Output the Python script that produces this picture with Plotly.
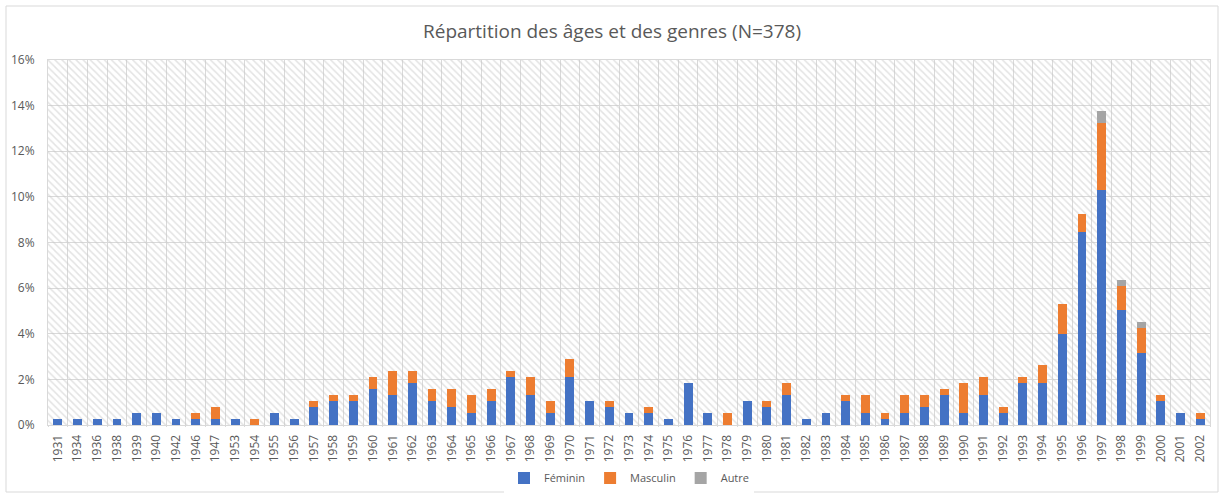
import plotly.graph_objects as go

N = 378
years = ["1931", "1934", "1936", "1938", "1939", "1940", "1942", "1946", "1947", "1953",
         "1954", "1955", "1956", "1957", "1958", "1959", "1960", "1961", "1962", "1963",
         "1964", "1965", "1966", "1967", "1968", "1969", "1970", "1971", "1972", "1973",
         "1974", "1975", "1976", "1977", "1978", "1979", "1980", "1981", "1982", "1983",
         "1984", "1985", "1986", "1987", "1988", "1989", "1990", "1991", "1992", "1993",
         "1994", "1995", "1996", "1997", "1998", "1999", "2000", "2001", "2002"]

# counts per year (persons)
feminin = [1, 1, 1, 1, 2, 2, 1, 1, 1, 1,
           0, 2, 1, 3, 4, 4, 6, 5, 7, 4,
           3, 2, 4, 8, 5, 2, 8, 4, 3, 2,
           2, 1, 7, 2, 0, 4, 3, 5, 1, 2,
           4, 2, 1, 2, 3, 5, 2, 5, 2, 7,
           7, 15, 32, 39, 19, 12, 4, 2, 1]
masculin = [0, 0, 0, 0, 0, 0, 0, 1, 2, 0,
            1, 0, 0, 1, 1, 1, 2, 4, 2, 2,
            3, 3, 2, 1, 3, 2, 3, 0, 1, 0,
            1, 0, 0, 0, 2, 0, 1, 2, 0, 0,
            1, 3, 1, 3, 2, 1, 5, 3, 1, 1,
            3, 5, 3, 11, 4, 4, 1, 0, 1]
autre = [0] * 53 + [2, 1, 1, 0, 0, 0]

series_names = ["Féminin", "Masculin", "Autre"]
series_colors = ["#4472C4", "#ED7D31", "#A5A5A5"]
series_counts = [feminin, masculin, autre]

title_text = "Répartition des âges et des genres (N=378)"
text_color = "#595959"
grid_color = "#d9d9d9"

W, H = 1224, 498
L, R, T, B = 48, 14, 60, 73
pw, ph = W - L - R, H - T - B

fig = go.Figure()

# hatched background of the plot area (base subplot, hidden axes)
fig.add_trace(go.Bar(
    x=[0.5], y=[1], width=[1], base=[0],
    xaxis="x", yaxis="y",
    marker=dict(color="rgba(0,0,0,0)", line=dict(width=0),
                pattern=dict(shape="\\", fgcolor="#c8c8c8", bgcolor="rgba(0,0,0,0)",
                             size=5, solidity=0.3)),
    showlegend=False, hoverinfo="skip",
))

for name, color, counts in zip(series_names, series_colors, series_counts):
    fig.add_trace(go.Bar(
        x=years, y=[c / N for c in counts], name=name,
        xaxis="x2", yaxis="y2",
        marker=dict(color=color, line=dict(width=0)),
    ))

fig.update_layout(
    width=W, height=H,
    margin=dict(l=L, r=R, t=T, b=B, autoexpand=False),
    paper_bgcolor="white", plot_bgcolor="white",
    barmode="stack", bargap=0.55,
    font=dict(family="Open Sans", color=text_color, size=12),
    title=dict(text=title_text, x=0.5, xanchor="center", y=1 - 31 / H, yanchor="middle",
               font=dict(family="Open Sans", size=19, color=text_color)),
    xaxis=dict(range=[0, 1], visible=False, fixedrange=True),
    yaxis=dict(range=[0, 1], visible=False, fixedrange=True),
    xaxis2=dict(type="category", overlaying="x", anchor="y2", side="bottom",
                showgrid=True, gridcolor=grid_color, gridwidth=1, tickson="boundaries",
                ticks="outside", ticklen=1, tickcolor=grid_color,
                tickangle=-90, ticklabelstandoff=4, automargin=False,
                showline=True, linecolor=grid_color, mirror=True,
                tickfont=dict(size=12, color=text_color)),
    yaxis2=dict(overlaying="y", anchor="x2", side="left", range=[0, 0.16], dtick=0.02,
                tickformat=".0%", showgrid=True, gridcolor=grid_color, gridwidth=1,
                zeroline=False, ticks="", ticklabelstandoff=10, automargin=False,
                showline=True, linecolor=grid_color, mirror=True,
                tickfont=dict(size=12, color=text_color)),
    legend=dict(orientation="h", x=0.5, xanchor="center", y=-(478 - (T + ph)) / ph,
                yanchor="middle", font=dict(size=11, color=text_color),
                itemwidth=30, traceorder="normal"),
)

# light outer border of the chart
fig.add_shape(type="rect", xref="paper", yref="paper",
              x0=(6 - L) / pw, x1=(W - 6 - L) / pw,
              y0=-(H - 6 - T - ph) / ph, y1=1 + (T - 6) / ph,
              line=dict(color=grid_color, width=1), fillcolor="rgba(0,0,0,0)", layer="below")

fig.write_html("out.html", config={"displayModeBar": False},
               post_script="document.body.style.margin='0';document.body.style.overflow='hidden';")
